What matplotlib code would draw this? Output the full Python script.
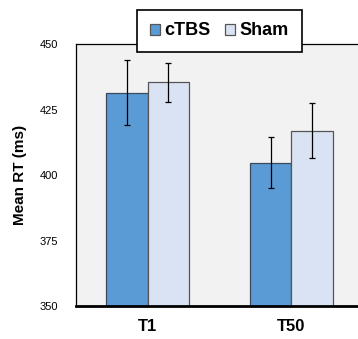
import matplotlib
matplotlib.use("Agg")
import matplotlib.pyplot as plt
import numpy as np

plt.rcParams['font.family'] = ['Liberation Sans', 'DejaVu Sans']

# data
categories = ["T1", "T50"]
series_names = ["cTBS", "Sham"]
ctbs_means = [431.5, 404.8]
ctbs_err = [12.3, 9.8]
sham_means = [435.5, 417.0]
sham_err = [7.4, 10.5]
yticks = [350, 375, 400, 425, 450]

fig = plt.figure(figsize=(3.58, 3.39), dpi=100)
ax = fig.add_axes([0.2123, 0.0959, 0.8017, 0.774])
ax.set_facecolor("#f2f2f2")

x = np.arange(len(categories))
w = 0.288
ekw = dict(ecolor="black", elinewidth=0.9, capsize=2.3, capthick=0.9)
ax.bar(x - w / 2, ctbs_means, w, yerr=ctbs_err, color="#5b9bd5",
       edgecolor="#3a4a5c", linewidth=0.9, label=series_names[0],
       error_kw=ekw)
ax.bar(x + w / 2, sham_means, w, yerr=sham_err, color="#dae3f3",
       edgecolor="#555555", linewidth=0.9, label=series_names[1],
       error_kw=ekw)

ax.set_xlim(-0.5, 1.5)
ax.set_ylim(350, 450)
ax.set_yticks(yticks)
ax.set_yticklabels([str(t) for t in yticks], fontsize=8)
ax.set_xticks(x)
ax.set_xticklabels(categories, fontsize=12, fontweight="bold")
ax.tick_params(axis="both", length=0)
ax.tick_params(axis="y", pad=13)
ax.tick_params(axis="x", pad=9)
ax.set_ylabel("Mean RT (ms)", fontsize=11, fontweight="bold", labelpad=9)

for s in ["left", "top", "right"]:
    ax.spines[s].set_linewidth(0.9)
    ax.spines[s].set_color("black")
ax.spines["bottom"].set_linewidth(2.0)

leg = ax.legend(loc="center", bbox_to_anchor=(0.5, 1.05), ncol=2,
                frameon=True, fancybox=False, handlelength=0.55,
                handleheight=0.55, handletextpad=0.25, columnspacing=0.8,
                borderpad=0.7, borderaxespad=0,
                prop=dict(size=13, weight="bold"))
leg.get_frame().set_edgecolor("black")
leg.get_frame().set_linewidth(1.2)
leg.get_frame().set_facecolor("white")
leg.get_frame().set_alpha(1)
for h in leg.legend_handles:
    h.set_edgecolor("#555555")

fig.savefig("out.png", dpi=100)
